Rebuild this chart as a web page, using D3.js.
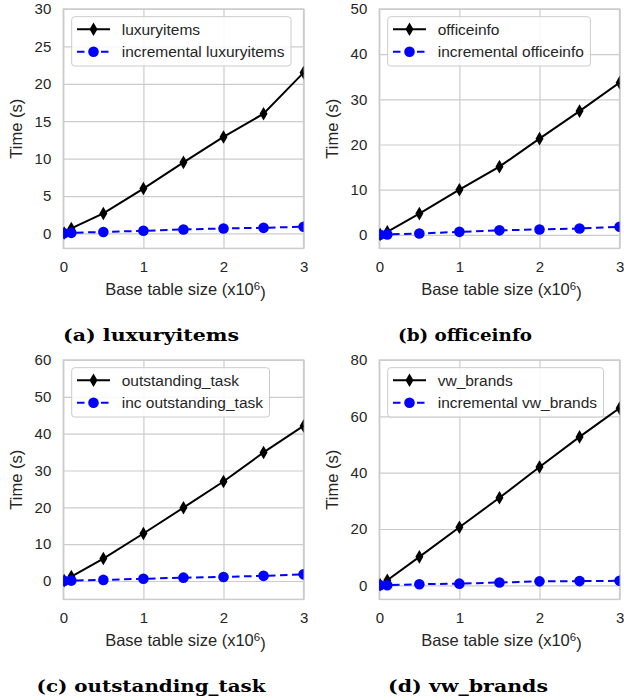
<!DOCTYPE html>
<html>
<head>
<meta charset="utf-8">
<script src="https://cdn.jsdelivr.net/npm/d3@7"></script>
<style>
  html, body { margin: 0; padding: 0; background: #fff; }
  svg { display: block; }
</style>
</head>
<body>
<svg id="chart" width="624" height="700"></svg>
<script>
// ---------- data ----------
const sizes = [0.01, 0.1, 0.5, 1, 1.5, 2, 2.5, 3]; // base table size (x10^6)
const xTicks = [0, 1, 2, 3];

const luxuryFull = [0.05, 0.67, 2.67, 6.0, 9.5, 12.9, 16.0, 21.5];
const luxuryInc  = [0.03, 0.08, 0.2, 0.35, 0.53, 0.67, 0.75, 0.9];
const officeFull = [0.07, 0.66, 4.7, 10.0, 15.1, 21.3, 27.4, 33.7];
const officeInc  = [0.02, 0.1, 0.3, 0.66, 1.0, 1.2, 1.4, 1.8];
const outstandingFull = [0.1, 1.2, 6.1, 12.9, 19.9, 27.0, 34.9, 42.1];
const outstandingInc  = [0.02, 0.1, 0.3, 0.6, 0.9, 1.1, 1.4, 1.8];
const vwFull = [0.2, 1.8, 10.1, 20.6, 31.1, 42.0, 52.7, 62.9];
const vwInc  = [0.02, 0.05, 0.4, 0.6, 1.0, 1.4, 1.5, 1.6];

const yTicksA = [0, 5, 10, 15, 20, 25, 30];
const yTicksB = [0, 10, 20, 30, 40, 50];
const yTicksC = [0, 10, 20, 30, 40, 50, 60];
const yTicksD = [0, 20, 40, 60, 80];

const yDomA = [-2, 30], yDomB = [-3, 50], yDomC = [-5, 60], yDomD = [-5, 80];

const fullLabels = ["luxuryitems", "officeinfo", "outstanding_task", "vw_brands"];
const incLabels  = ["incremental luxuryitems", "incremental officeinfo", "inc outstanding_task", "incremental vw_brands"];
const captions   = ["(a) luxuryitems", "(b) officeinfo", "(c) outstanding_task", "(d) vw_brands"];
const xLabel = "Base table size (x10";
const yLabel = "Time (s)";

// ---------- layout ----------
const panels = [
  { left: 63.3,  top: 9,   full: luxuryFull, inc: luxuryInc, yTicks: yTicksA, yDom: yDomA, capX: 151, capY: 341, capW: 176 },
  { left: 379.3, top: 9,   full: officeFull, inc: officeInc, yTicks: yTicksB, yDom: yDomB, capX: 465, capY: 341, capW: 134 },
  { left: 63.3,  top: 360, full: outstandingFull, inc: outstandingInc, yTicks: yTicksC, yDom: yDomC, capX: 151, capY: 692, capW: 229 },
  { left: 379.3, top: 360, full: vwFull, inc: vwInc, yTicks: yTicksD, yDom: yDomD, capX: 468, capY: 692, capW: 160 }
];
const PW = 240.3, PH = 239.4;
const gridColor = "#cccccc";
const textColor = "#262626";
const sansFont = "'Liberation Sans', Arial, sans-serif";

const svg = d3.select("#chart");

const diamond = (cx, cy) => {
  const h = 6.8, w = 4.0;
  return `M${cx},${cy - h}L${cx + w},${cy}L${cx},${cy + h}L${cx - w},${cy}Z`;
};

panels.forEach((p, i) => {
  const x = d3.scaleLinear().domain([0, 3]).range([p.left, p.left + PW]);
  const y = d3.scaleLinear().domain(p.yDom).range([p.top + PH, p.top]);
  const g = svg.append("g");

  const clipId = "clip" + i;
  svg.append("defs").append("clipPath").attr("id", clipId)
    .append("rect").attr("x", p.left).attr("y", p.top).attr("width", PW).attr("height", PH);

  // grid via axes
  const yAxis = d3.axisLeft(y).tickValues(p.yTicks).tickSize(-PW).tickPadding(12).tickFormat(d3.format("d"));
  const xAxis = d3.axisBottom(x).tickValues(xTicks).tickSize(-PH).tickPadding(13).tickFormat(d3.format("d"));

  const ya = g.append("g").attr("transform", `translate(${p.left},0)`).call(yAxis);
  const xa = g.append("g").attr("transform", `translate(0,${p.top + PH})`).call(xAxis);
  [ya, xa].forEach(a => {
    a.select(".domain").remove();
    a.selectAll(".tick line").attr("stroke", gridColor).attr("stroke-width", 1.2);
    a.selectAll(".tick text").attr("fill", textColor).style("font-family", sansFont).style("font-size", "15px");
  });

  // frame
  g.append("rect").attr("x", p.left).attr("y", p.top).attr("width", PW).attr("height", PH)
    .attr("fill", "none").attr("stroke", gridColor).attr("stroke-width", 1.5);

  const plot = g.append("g").attr("clip-path", `url(#${clipId})`);
  const pts = sizes.map((s, k) => ({ x: s, full: p.full[k], inc: p.inc[k] }));

  const lineFull = d3.line().x(d => x(d.x)).y(d => y(d.full));
  const lineInc = d3.line().x(d => x(d.x)).y(d => y(d.inc));

  plot.append("path").datum(pts).attr("d", lineFull).attr("fill", "none")
    .attr("stroke", "#000").attr("stroke-width", 2);
  plot.selectAll(".dm").data(pts).enter().append("path")
    .attr("d", d => diamond(x(d.x), y(d.full))).attr("fill", "#000");

  plot.append("path").datum(pts).attr("d", lineInc).attr("fill", "none")
    .attr("stroke", "#0000ff").attr("stroke-width", 2).attr("stroke-dasharray", "7.5,4.5");
  plot.selectAll(".cc").data(pts).enter().append("circle")
    .attr("cx", d => x(d.x)).attr("cy", d => y(d.inc)).attr("r", 5.3).attr("fill", "#0000ff");

  // legend
  const lg = g.append("g");
  const lx = p.left + 8.4, ly = p.top + 7.7;
  const box = lg.append("rect").attr("x", lx).attr("y", ly).attr("height", 49.3)
    .attr("rx", 3).attr("fill", "#fff").attr("fill-opacity", 0.85)
    .attr("stroke", gridColor).attr("stroke-width", 1);
  const rows = [
    { label: fullLabels[i], kind: "full" },
    { label: incLabels[i], kind: "inc" }
  ];
  let maxW = 0;
  rows.forEach((r, k) => {
    const cy = ly + 12.6 + k * 22.4;
    const x0 = lx + 5.3, x1 = lx + 38.3, xm = (x0 + x1) / 2;
    if (r.kind === "full") {
      lg.append("line").attr("x1", x0).attr("x2", x1).attr("y1", cy).attr("y2", cy)
        .attr("stroke", "#000").attr("stroke-width", 2);
      lg.append("path").attr("d", diamond(xm, cy)).attr("fill", "#000");
    } else {
      lg.append("line").attr("x1", x0).attr("x2", x1).attr("y1", cy).attr("y2", cy)
        .attr("stroke", "#0000ff").attr("stroke-width", 2).attr("stroke-dasharray", "7.5,4.5");
      lg.append("circle").attr("cx", xm).attr("cy", cy).attr("r", 5.3).attr("fill", "#0000ff");
    }
    const t = lg.append("text").attr("x", lx + 50).attr("y", cy).attr("dy", "0.35em")
      .attr("fill", textColor).style("font-family", sansFont).style("font-size", "15.5px").text(r.label);
    maxW = Math.max(maxW, t.node().getComputedTextLength());
  });
  box.attr("width", 50 + maxW + 6.5);

  // axis labels
  const xl = g.append("text").attr("x", p.left + PW / 2 + 2).attr("y", p.top + PH + 47)
    .attr("text-anchor", "middle").attr("fill", textColor)
    .style("font-family", sansFont).style("font-size", "16.5px");
  xl.append("tspan").text(xLabel);
  xl.append("tspan").attr("dy", "-0.45em").style("font-size", "11.5px").text("6");
  xl.append("tspan").attr("dy", "0.45em").text(")");

  g.append("text").attr("transform", `translate(${p.left - 47},${p.top + PH / 2}) rotate(-90)`)
    .attr("text-anchor", "middle").attr("dy", "0.35em").attr("fill", textColor)
    .style("font-family", sansFont).style("font-size", "16.5px").text(yLabel);

  // caption
  svg.append("text").attr("x", p.capX).attr("y", p.capY).attr("text-anchor", "middle")
    .attr("fill", "#000").style("font-family", "'DejaVu Serif', serif").style("font-weight", "bold")
    .style("font-size", "16px").attr("textLength", p.capW).attr("lengthAdjust", "spacingAndGlyphs")
    .text(captions[i]);
});
</script>
</body>
</html>
